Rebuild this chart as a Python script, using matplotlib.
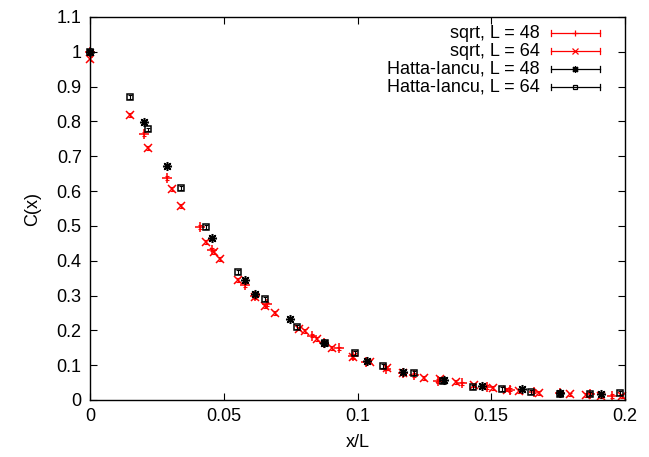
import matplotlib
matplotlib.use("Agg")
import matplotlib.pyplot as plt
from matplotlib.lines import Line2D

plt.rcParams['font.family'] = ['Liberation Sans', 'DejaVu Sans']

# sqrt, L = 48
x_s48 = [0, 0.0202, 0.0288, 0.0411, 0.0456, 0.058, 0.0617, 0.066, 0.083, 0.0875,
         0.093, 0.0984, 0.103, 0.1105, 0.117, 0.121, 0.130, 0.139, 0.1485, 0.157,
         0.166, 0.1757, 0.187, 0.195]
y_s48 = [1.0, 0.764, 0.638, 0.497, 0.432, 0.330, 0.300, 0.275, 0.185, 0.165,
         0.148, 0.127, 0.110, 0.090, 0.077, 0.072, 0.055, 0.048, 0.038, 0.030,
         0.024, 0.020, 0.016, 0.012]

# sqrt, L = 64
x_s64 = [0, 0.015, 0.0217, 0.0307, 0.034, 0.0434, 0.0463, 0.0486, 0.0553, 0.0617,
         0.0654, 0.069, 0.078, 0.0805, 0.085, 0.0905, 0.0984, 0.1045, 0.111, 0.117,
         0.125, 0.131, 0.137, 0.1435, 0.1505, 0.156, 0.1605, 0.168, 0.1795, 0.1855,
         0.191, 0.199]
y_s64 = [0.98, 0.818, 0.724, 0.606, 0.557, 0.454, 0.425, 0.405, 0.345, 0.295,
         0.270, 0.250, 0.205, 0.198, 0.175, 0.150, 0.124, 0.110, 0.092, 0.078,
         0.063, 0.060, 0.052, 0.042, 0.035, 0.030, 0.026, 0.020, 0.016, 0.015,
         0.012, 0.012]

# Hatta-Iancu, L = 48
x_h48 = [0, 0.0202, 0.0288, 0.0456, 0.058, 0.0617, 0.0748, 0.0875, 0.1036, 0.117,
         0.1325, 0.1466, 0.1615, 0.1757, 0.191]
y_h48 = [1.0, 0.798, 0.672, 0.465, 0.345, 0.305, 0.232, 0.165, 0.112, 0.080,
         0.058, 0.040, 0.031, 0.021, 0.016]

# Hatta-Iancu, L = 64
x_h64 = [0, 0.015, 0.0217, 0.034, 0.0434, 0.0553, 0.0654, 0.0774, 0.0879, 0.099,
         0.1095, 0.121, 0.132, 0.143, 0.154, 0.165, 0.1757, 0.187, 0.198]
y_h64 = [1.0, 0.870, 0.777, 0.609, 0.497, 0.368, 0.290, 0.210, 0.163, 0.135,
         0.098, 0.077, 0.055, 0.037, 0.032, 0.023, 0.017, 0.018, 0.020]

labels = ['sqrt, L = 48', 'sqrt, L = 64', 'Hatta-Iancu, L = 48', 'Hatta-Iancu, L = 64']
colors = ['#ff0000', '#ff0000', '#000000', '#000000']
markers = ['+', 'x', (8, 2, 0), 's']
sizes = [6.5, 5.5, 6.5, 5]
fs = 13

fig = plt.figure(figsize=(6.49, 4.57), dpi=100)
ax = fig.add_axes([90 / 649, 1 - 400 / 457, 535 / 649, 383 / 457])

series = [(x_s48, y_s48), (x_s64, y_s64), (x_h48, y_h48), (x_h64, y_h64)]
for (xs, ys), c, m, s in zip(series, colors, markers, sizes):
    ax.errorbar(xs, ys, yerr=[0.005] * len(ys), fmt='none', ecolor=c,
                elinewidth=0.8, capsize=1.5, capthick=0.8)
    ax.plot(xs, ys, linestyle='none', marker=m, color=c, markersize=s,
            markeredgewidth=1.1, markerfacecolor='none', clip_on=False)

ax.set_xlim(0, 0.2)
ax.set_ylim(0, 1.1)
ax.set_xticks([0, 0.05, 0.1, 0.15, 0.2])
ax.set_xticklabels(['0', '0.05', '0.1', '0.15', '0.2'])
yt = [i / 10 for i in range(12)]
ax.set_yticks(yt)
ax.set_yticklabels(['0', '0.1', '0.2', '0.3', '0.4', '0.5', '0.6', '0.7', '0.8', '0.9', '1', '1.1'])
ax.tick_params(direction='in', top=True, right=True, length=5, width=0.8,
               labelsize=fs, pad=6)
for sp in ax.spines.values():
    sp.set_linewidth(1.0)

ax.set_xlabel('x/L', fontsize=fs, labelpad=6)
ax.set_ylabel('C(x)', fontsize=fs, labelpad=11)

# gnuplot style key: text on the left, errorbar sample on the right
tr = ax.transAxes
rows = [33.3, 51.0, 69.3, 87.3]
x0, x1 = (550.7 - 90) / 535, (600 - 90) / 535
xm = (x0 + x1) / 2
for lab, c, m, s, py in zip(labels, colors, markers, sizes, rows):
    yy = (400 - py) / 383
    ax.text(x0 - 0.02, yy, lab, transform=tr, ha='right', va='center', fontsize=fs)
    ax.add_line(Line2D([x0, x1], [yy, yy], transform=tr, color=c, lw=0.9))
    for xe in (x0, x1):
        ax.add_line(Line2D([xe, xe], [yy - 0.008, yy + 0.008], transform=tr, color=c, lw=0.9))
    ax.add_line(Line2D([xm], [yy], transform=tr, marker=m, color=c, markersize=s - 1.5,
                       markerfacecolor='none', markeredgewidth=0.9, linestyle='none'))

fig.savefig('out.png', dpi=100)
